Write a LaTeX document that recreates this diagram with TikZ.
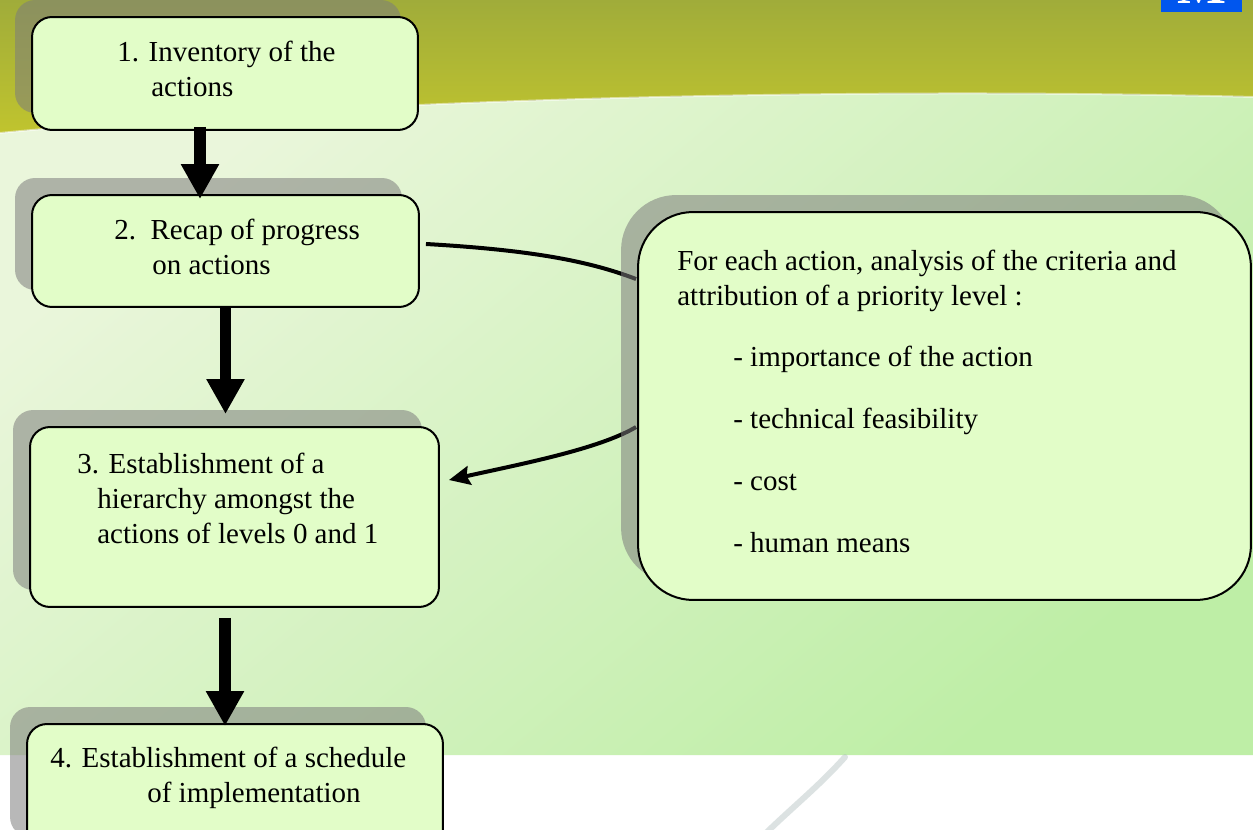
\documentclass[tikz,border=0pt]{standalone}
\usepackage{fontspec}
\setmainfont{Liberation Serif}
\usetikzlibrary{arrows.meta,calc,shadows}
\definecolor{olivetop}{RGB}{160,172,58}
\definecolor{olivebottom}{RGB}{192,196,46}
\definecolor{paleul}{RGB}{234,246,219}
\definecolor{palelr}{RGB}{190,238,166}
\definecolor{boxfill}{RGB}{226,253,200}
\definecolor{shadowgray}{RGB}{124,124,124}
\definecolor{badgeblue}{RGB}{0,86,238}
\definecolor{swoosh}{RGB}{168,184,184}
\pgfdeclarelayer{bg}
\pgfdeclarelayer{links}
\pgfsetlayers{bg,links,main}
\newcommand{\topstrut}{\rule{0pt}{0.5cm}}

\begin{document}
\begin{tikzpicture}[
    x=0.02cm, y=-0.02cm,
    every node/.style={font=\fontsize{16.5}{19.9}\selectfont},
    stepbox/.style={rectangle, rounded corners=0.4cm, draw=black, line width=0.04cm, fill=boxfill, inner sep=0pt,
        drop shadow={shadow xshift=-0.34cm, shadow yshift=0.34cm, fill=shadowgray, opacity=0.54}},
    critbox/.style={stepbox, rounded corners=1.1cm},
    boxtext/.style={anchor=north west, inner sep=0pt, align=left},
    flow/.style={line width=0.23cm, -{Triangle[length=0.7cm, width=0.72cm]}},
    link/.style={line width=0.08cm},
    linkarrow/.style={link, -{Stealth[length=0.42cm, width=0.38cm, inset=0.06cm]}}
]
\useasboundingbox (0,0) rectangle (1253,830);

% Background of the slide
\begin{pgfonlayer}{bg}
\fill[white] (0,0) rectangle (1253,830);
\fill[top color=olivetop, bottom color=olivebottom] (0,0) -- (1253,0) -- (1253,97)
    .. controls (900,88) and (400,95) .. (0,133) -- cycle;
\shade[left color=paleul, right color=palelr, shading angle=40]
    (0,133) .. controls (400,95) and (900,88) .. (1253,97) -- (1253,755) -- (0,755) -- cycle;
\draw[white, opacity=0.5, line width=0.04cm] (0,133) .. controls (400,95) and (900,88) .. (1253,97);
\draw[swoosh, line width=0.12cm, line cap=round, opacity=0.4] (845,757) .. controls (820,785) and (795,805) .. (767,832);
\fill[badgeblue] (1161,0) rectangle (1242,12);
\end{pgfonlayer}
\node[text=white, font=\bfseries\fontsize{29.5}{30}\selectfont, anchor=base, inner sep=0pt] (badge) at (1202,4) {M};

% Steps
\node[stepbox, minimum width=7.72cm, minimum height=2.26cm] (inv) at (225,73.5) {};
\node[stepbox, minimum width=7.74cm, minimum height=2.24cm] (recap) at (225.5,251) {};
\node[stepbox, minimum width=8.18cm, minimum height=3.6cm] (hier) at (234.5,517) {};
\node[stepbox, minimum width=8.32cm, minimum height=2.6cm] (sched) at (235,789) {};
\node[critbox, minimum width=12.26cm, minimum height=7.76cm] (crit) at (944.5,406) {};

\node[boxtext] (inv-txt) at (117,36) {\topstrut 1. Inventory of the\\\hspace*{0.68cm}actions};
\node[boxtext] (recap-txt) at (114,214) {\topstrut 2.~~Recap of progress\\\hspace*{0.76cm}on actions};
\node[boxtext] (hier-txt) at (77,448) {\topstrut 3. Establishment of a\\\hspace*{0.4cm}hierarchy amongst the\\\hspace*{0.4cm}actions of levels 0 and 1};
\node[boxtext] (sched-txt) at (50,742) {\topstrut 4. Establishment of a schedule\\\hspace*{1.94cm}of implementation};
\node[boxtext] (crit-txt) at (677,245) {\topstrut For each action, analysis of the criteria and\\attribution of a priority level :\\[0.52cm]
    \hspace*{1.12cm}- importance of the action\\[0.54cm]
    \hspace*{1.12cm}- technical feasibility\\[0.54cm]
    \hspace*{1.12cm}- cost\\[0.54cm]
    \hspace*{1.12cm}- human means};

% Connections
\draw[flow] ($(inv.south)+(-25,-4)$) -- ($(recap.north)+(-25.5,5)$);
\draw[flow] (recap.south) -- ($(recap.south |- hier.north)+(0,-12)$);
\draw[flow] ($(hier.south)+(-9.5,10)$) -- ($(hier.south |- sched.north)+(-9.5,3)$);

\begin{pgfonlayer}{links}
\draw[link] ($(recap.east)+(6,-7)$) .. controls +(105,6) and +(-47,-18) .. ($(crit.north west)+(-1,68)$);
\draw[linkarrow] ($(crit.north west)+(-1,216)$) .. controls +(-37,22) and +(72,-16) .. ($(hier.north east)+(9,54)$);
\end{pgfonlayer}

\end{tikzpicture}
\end{document}
